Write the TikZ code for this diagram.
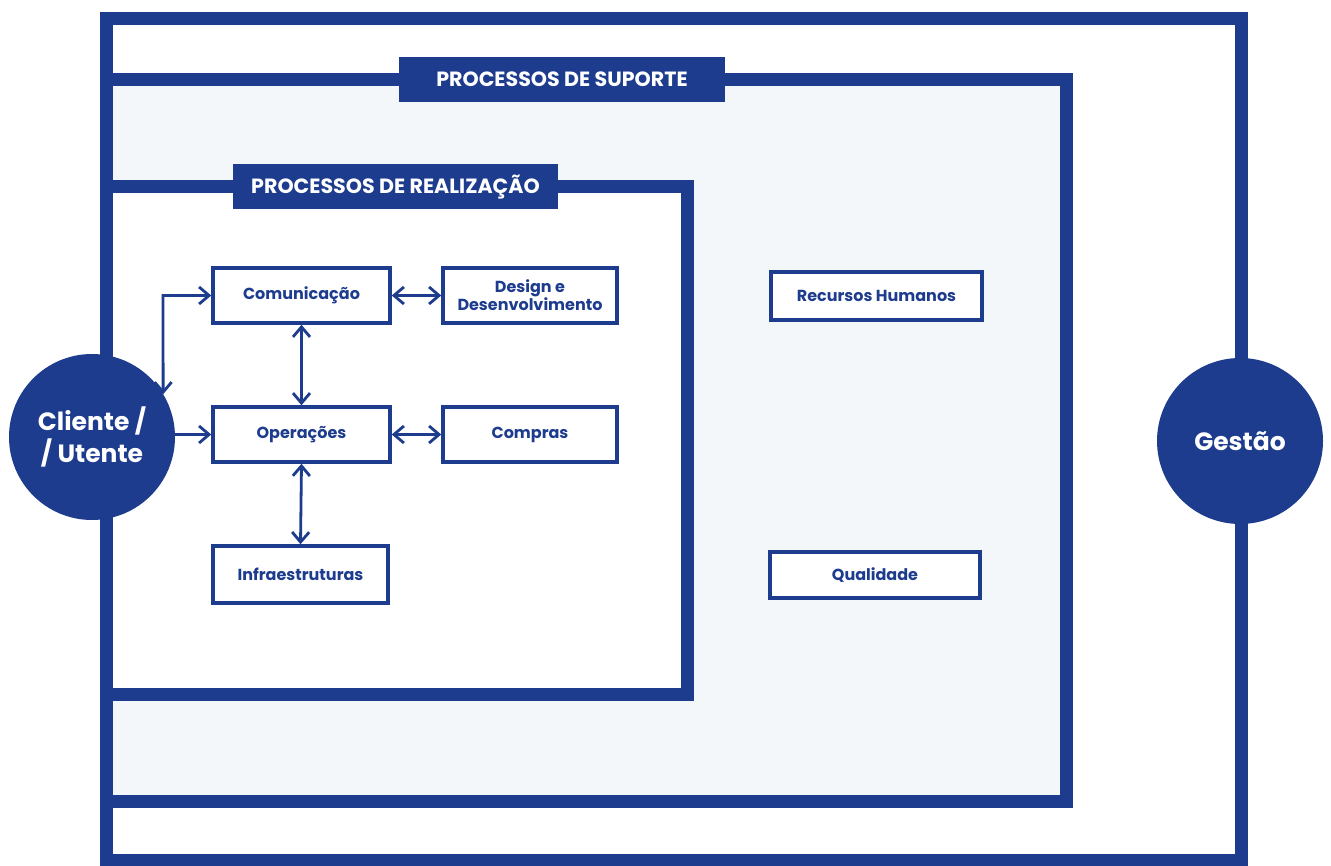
\documentclass[tikz,border=0pt]{standalone}
\usepackage{fontspec}
\setmainfont{Poppins}
\usetikzlibrary{arrows.meta}
\definecolor{navy}{RGB}{29,60,141}
\definecolor{paleblue}{RGB}{243,247,249}
\begin{document}
\begin{tikzpicture}[x=1pt,y=-1pt,
  frame/.style={draw=navy,line width=13pt,line join=miter},
  banner/.style={fill=navy,text=white,inner sep=0pt,minimum height=45pt,
    font=\fontsize{20.6}{24}\selectfont\bfseries},
  proc/.style={draw=navy,fill=white,line width=3.5pt,text=navy,align=center,inner sep=0pt,
    font=\fontsize{16}{18}\selectfont\bfseries},
  actor/.style={circle,fill=navy,text=white,inner sep=0pt,outer sep=0pt,minimum size=166pt,
    align=center,font=\fontsize{25}{32}\selectfont\bfseries},
  link/.style={draw=navy,line width=2.8pt,{Straight Barb[length=10pt,width=17pt]}-{Straight Barb[length=10pt,width=17pt]}},
  feed/.style={draw=navy,line width=2.8pt,-{Straight Barb[length=10pt,width=17pt]}}
]
\useasboundingbox (0,0) rectangle (1331,866);

% nested process frames
\draw[frame,fill=white] (106,19) rectangle (1241,860);
\draw[frame,fill=paleblue] (106,80) rectangle (1066,801);
\draw[frame,fill=white] (106,187) rectangle (687,694);

% frame titles
\node[banner,minimum width=326pt] (sup) at (562,79.5) {PROCESSOS DE SUPORTE};
\node[banner,minimum width=325pt] (real) at (395.5,187) {PROCESSOS DE REALIZAÇÃO};

% realization processes
\node[proc,minimum width=177pt,minimum height=55pt] (com) at (301.5,295.5) {Comunicação};
\node[proc,minimum width=174pt,minimum height=55pt] (des) at (530,295.5) {Design e\\Desenvolvimento};
\node[proc,minimum width=177pt,minimum height=55pt] (ope) at (301.5,434.5) {Operações};
\node[proc,minimum width=174pt,minimum height=55pt] (cmp) at (530,434.5) {Compras};
\node[proc,minimum width=175pt,minimum height=57pt] (inf) at (300.5,574.5) {Infraestruturas};

% support processes
\node[proc,minimum width=211pt,minimum height=48pt] (rh) at (876.5,296) {Recursos Humanos};
\node[proc,minimum width=210pt,minimum height=46pt] (qua) at (875,575) {Qualidade};

% client and management
\node[actor] (cli) at (92,437) {Cliente /\\/ Utente};
\node[actor] (ges) at (1240,441) {Gestão};

% connectors
\coordinate (bend) at (163,295.5);
\draw[link] (com.west) -- (bend) -- (cli.31);
\draw[feed] (cli.east |- ope.west) -- (ope.west);
\draw[link] (com.east) -- (des.west);
\draw[link] (ope.east) -- (cmp.west);
\draw[link] (com.south) -- (ope.north);
\draw[link] (ope.south) -- (inf.north);
\end{tikzpicture}
\end{document}
